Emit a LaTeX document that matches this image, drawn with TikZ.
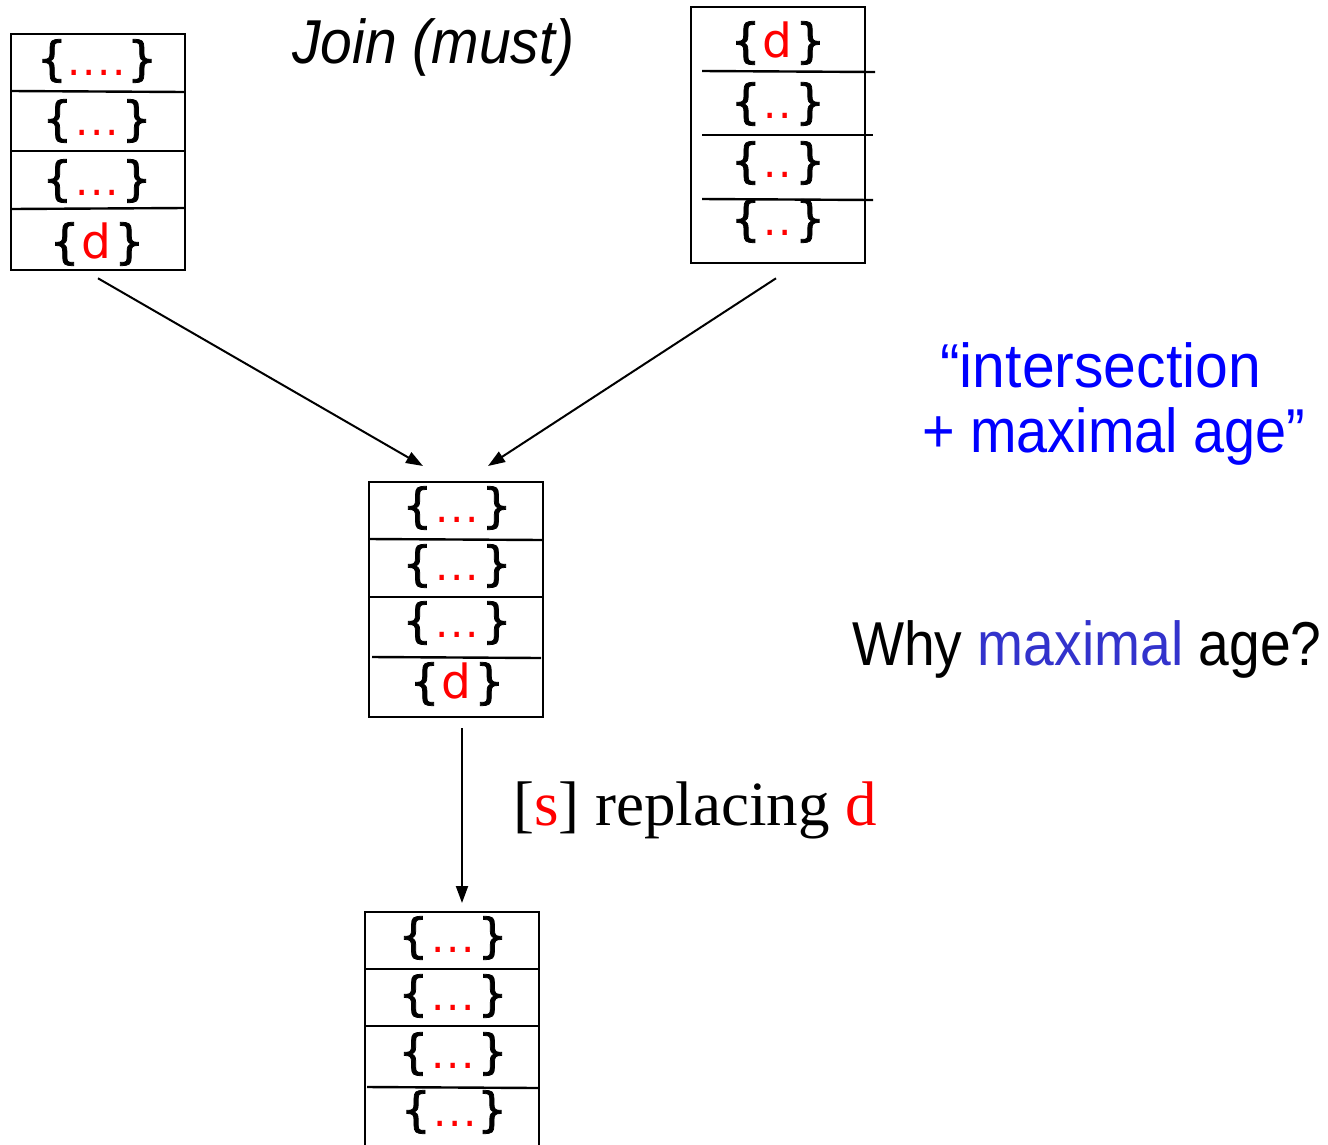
\documentclass[tikz,border=0pt]{standalone}
\usepackage{fontspec}
\usepackage{graphicx}
\setmainfont{Liberation Sans}
\newfontfamily\cellfont{DejaVu Sans}
\newfontfamily\bracefont[FakeBold=1.6]{DejaVu Sans}
\newfontfamily\seriffont{Liberation Serif}
\usetikzlibrary{arrows.meta}
\definecolor{qblue}{RGB}{0,0,255}
\definecolor{mblue}{RGB}{51,51,204}
\newcommand{\rd}[1]{\textcolor{red}{#1}}
\newcommand{\lb}{{\bracefont\{}}
\newcommand{\rb}{{\bracefont\}}}
\newcommand{\dt}{{\fontsize{42}{44}\selectfont.}}
\newcommand{\dg}{\hspace{1.6pt}}
\newcommand{\dtwo}{\dt\dg\dt}
\newcommand{\dthree}{\dt\dg\dt\dg\dt}
\newcommand{\dfour}{\dt\dg\dt\dg\dt\dg\dt}
\newcommand{\dotset}[1]{\lb\hspace{3pt}\rd{#1}\hspace{3pt}\rb}
\newcommand{\dset}{\lb\hspace{2pt}\rd{d}\hspace{3pt}\rb}
\tikzset{
  frame/.style={draw, line width=2.6pt, minimum width=174pt, inner sep=0pt},
  divider/.style={line width=2.4pt},
  cell/.style={font=\cellfont\fontsize{47}{50}\selectfont, anchor=base, inner sep=0pt},
  arr/.style={line width=2pt, -{Triangle[length=17pt,width=12pt]}},
  big/.style={font=\fontsize{62}{70}\selectfont, anchor=base west, inner sep=0pt},
}
\begin{document}
\begin{tikzpicture}[x=1pt,y=-1pt]
\useasboundingbox (0,0) rectangle (1328,1144);
\clip (0,0) rectangle (1328,1144);
% frames
\node[frame, minimum height=236pt] (A) at (98,152) {};
\node[frame, minimum height=256pt] (B) at (778,135) {};
\node[frame, minimum height=235pt] (C) at (456,599.5) {};
\node[frame, minimum height=248pt] (D) at (452,1036) {};
% dividers
\draw[divider] (11,91) -- (185,92);
\draw[divider] (11,151) -- (185,151);
\draw[divider] (11,209) -- (185,208);
\draw[divider] (702,71) -- (875,72);
\draw[divider] (702,135) -- (873,135);
\draw[divider] (702,199) -- (873,200);
\draw[divider] (369,539) -- (543,540);
\draw[divider] (369,597) -- (543,597);
\draw[divider] (372,657) -- (541,658);
\draw[divider] (365,969) -- (539,969);
\draw[divider] (365,1026) -- (539,1026);
\draw[divider] (367,1087) -- (538,1088);
% cells
\node[cell] (A1) at (97,75) {\lb\hspace{1pt}\rd{\dfour}\hspace{1pt}\rb};
\node[cell] (A2) at (97,135) {\dotset{\dthree}};
\node[cell] (A3) at (97,195) {\dotset{\dthree}};
\node[cell] (A4) at (97,258) {\dset};
\node[cell] (B1) at (778,57) {\dset};
\node[cell] (B2) at (778,118) {\dotset{\dtwo}};
\node[cell] (B3) at (778,177) {\dotset{\dtwo}};
\node[cell] (B4) at (778,235) {\dotset{\dtwo}};
\node[cell] (C1) at (457,522) {\dotset{\dthree}};
\node[cell] (C2) at (457,580) {\dotset{\dthree}};
\node[cell] (C3) at (457,637) {\dotset{\dthree}};
\node[cell] (C4) at (457,698) {\dset};
\node[cell] (D1) at (453,952) {\dotset{\dthree}};
\node[cell] (D2) at (453,1010) {\dotset{\dthree}};
\node[cell] (D3) at (453,1068) {\dotset{\dthree}};
\node[cell] (D4) at (454,1126) {\lb\hspace{3pt}\rd{\dthree}\rb};
% texts
\node[big, font=\fontsize{62}{70}\selectfont\itshape] (title) at (292,63) {\scalebox{0.92}[1]{Join (must)}};
\node[big, text=qblue] (int1) at (940,387) {\scalebox{0.95}[1]{“intersection}};
\node[big, text=qblue] (int2) at (922,452) {\scalebox{0.9}[1]{+ maximal age”}};
\node[big] (why) at (852,665) {\scalebox{0.89}[1]{Why \textcolor{mblue}{maximal} age?}};
\node[font=\seriffont\fontsize{63}{70}\selectfont, anchor=base west, inner sep=0pt] (repl) at (513,825) {[\rd{s}] replacing \rd{d}};
% arrows
\coordinate (cleft) at (423,466);
\coordinate (cright) at (488,466);
\coordinate (dtop) at (462,903);
\draw[arr] ([yshift=-7pt]A.south) -- (cleft);
\draw[arr] ([xshift=-2pt,yshift=-14pt]B.south) -- (cright);
\draw[arr] ([xshift=6pt,yshift=-10pt]C.south) -- (dtop);
\end{tikzpicture}
\end{document}
